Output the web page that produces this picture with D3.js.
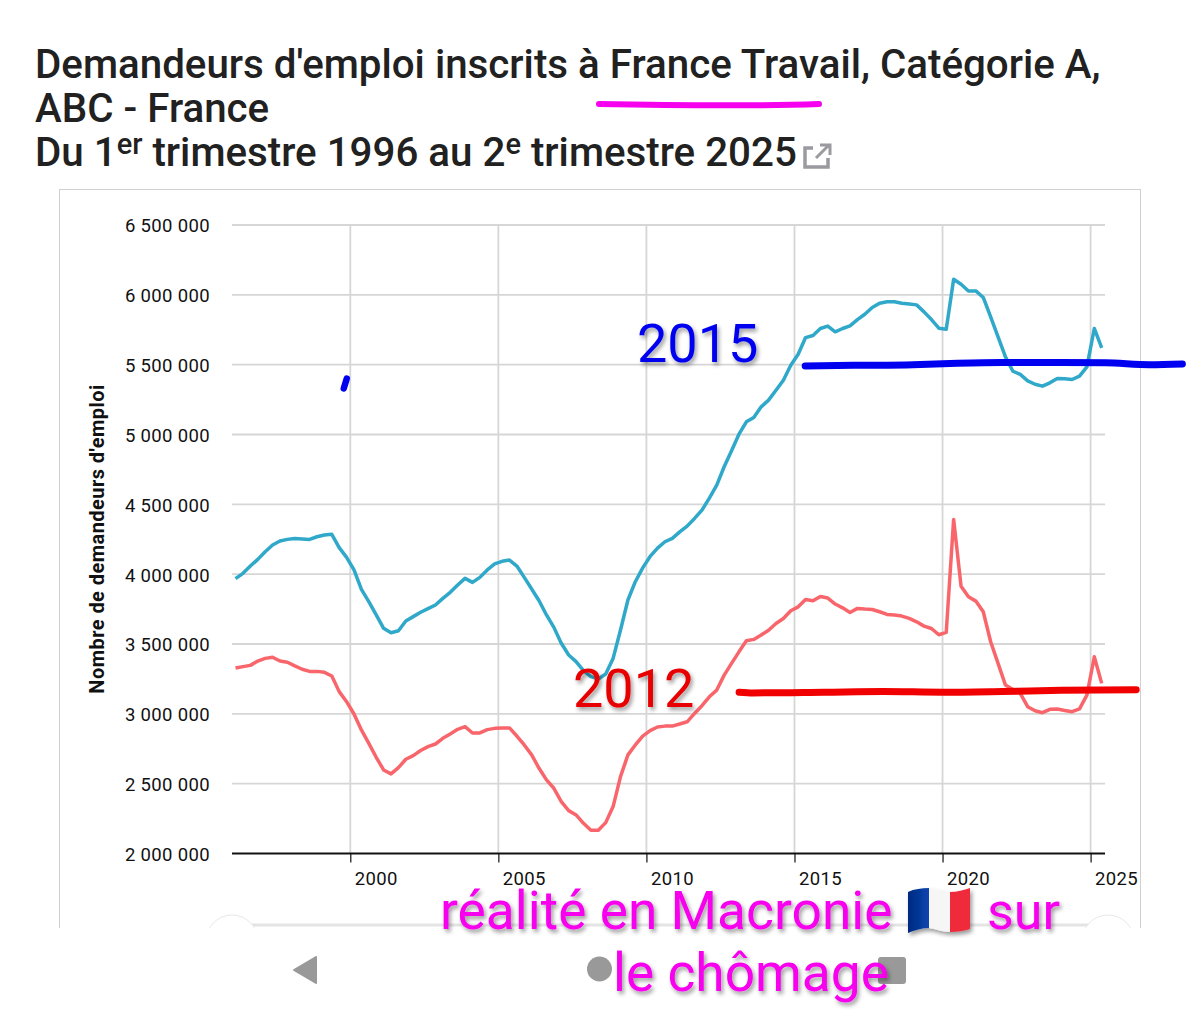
<!DOCTYPE html>
<html><head><meta charset="utf-8">
<style>html,body{margin:0;padding:0;background:#fff}svg{display:block}</style>
<script src="https://cdnjs.cloudflare.com/ajax/libs/d3/7.8.5/d3.min.js"></script>
</head><body><div id="c"></div>
<script>
const startYear = 1996;
const categoryABC = [3968,4006,4058,4106,4161,4209,4237,4249,4256,4252,4249,4268,4280,4285,4190,4120,4030,3891,3803,3708,3612,3581,3595,3665,3696,3727,3753,3779,3827,3870,3922,3970,3941,3977,4030,4073,4092,4101,4058,3977,3894,3810,3708,3619,3505,3421,3374,3309,3266,3250,3285,3397,3600,3815,3946,4045,4127,4187,4232,4256,4303,4344,4399,4458,4545,4637,4769,4883,5002,5091,5122,5198,5246,5317,5389,5496,5575,5694,5709,5759,5776,5735,5759,5778,5823,5861,5909,5940,5950,5950,5940,5935,5928,5878,5823,5761,5754,6112,6076,6028,6028,5981,5842,5699,5556,5453,5430,5384,5360,5346,5370,5401,5399,5394,5418,5484,5759,5620];
const categoryA = [3328,3338,3347,3378,3397,3405,3378,3369,3343,3319,3304,3304,3297,3271,3159,3087,2999,2885,2789,2689,2598,2570,2615,2675,2701,2737,2765,2784,2825,2856,2889,2908,2863,2863,2887,2896,2899,2899,2841,2777,2706,2610,2527,2467,2372,2307,2276,2216,2166,2166,2221,2336,2550,2706,2777,2841,2880,2906,2912,2912,2927,2943,3003,3058,3122,3170,3277,3361,3444,3523,3533,3564,3599,3647,3683,3738,3766,3819,3809,3840,3829,3786,3759,3726,3755,3750,3747,3731,3712,3707,3700,3683,3659,3628,3611,3566,3583,4392,3914,3838,3807,3731,3516,3361,3206,3175,3146,3051,3022,3008,3032,3034,3024,3015,3036,3134,3409,3218];
const yTicks = [2000,2500,3000,3500,4000,4500,5000,5500,6000,6500];
const yTickLabels = ["2 000 000","2 500 000","3 000 000","3 500 000","4 000 000","4 500 000","5 000 000","5 500 000","6 000 000","6 500 000"];
const xTicks = [2000,2005,2010,2015,2020,2025];
const blueStrokeYears = [2015.36,2017,2019,2020.5,2022,2024,2025.5,2027,2028.1];
const blueStrokeValues = [5490,5495,5500,5510,5515,5515,5513,5500,5505];
const blueTickYears = [1999.78,1999.88];
const blueTickValues = [5330,5400];
const redStrokeYears = [2013.13,2013.6,2016,2018,2020,2022,2024,2026.54];
const redStrokeValues = [3155,3150,3155,3160,3155,3160,3168,3172];

const W=1200,H=1011;
const svg=d3.select("#c").append("svg").attr("width",W).attr("height",H).attr("viewBox",[0,0,W,H]).style("font-family","Roboto");
const x=d3.scaleLinear().domain([2000,2025]).range([350.3,1090.6]);
const y=d3.scaleLinear().domain([2000,6500]).range([853.5,225]);
const FONT="Roboto";

const defs=svg.append("defs");
const blur=defs.append("filter").attr("id","sh").attr("x","-10%").attr("y","-10%").attr("width","120%").attr("height","130%");
blur.append("feDropShadow").attr("dx",2).attr("dy",3).attr("stdDeviation",2).attr("flood-color","#000").attr("flood-opacity",0.4);
const gr=defs.append("linearGradient").attr("id","fb").attr("x1",0).attr("x2",1);
gr.append("stop").attr("offset",0).attr("stop-color","#00297f");
gr.append("stop").attr("offset",1).attr("stop-color","#0a45b0");

// title
const tt=svg.append("g").attr("fill","#212121").attr("font-size",40.3).attr("font-weight",500);
tt.append("text").attr("x",35).attr("y",78).text("Demandeurs d'emploi inscrits à France Travail, Catégorie A,");
tt.append("text").attr("x",35).attr("y",122).text("ABC - France");
const t3=tt.append("text").attr("x",35).attr("y",166);
t3.append("tspan").text("Du 1");
t3.append("tspan").attr("dy",-12).attr("font-size",29).text("er");
t3.append("tspan").attr("dy",12).text(" trimestre 1996 au 2");
t3.append("tspan").attr("dy",-12).attr("font-size",29).text("e");
t3.append("tspan").attr("dy",12).text(" trimestre 2025");

// external-link icon
const ic=svg.append("g").attr("fill","none").attr("stroke","#9a9aa0").attr("stroke-width",3.5);
ic.append("path").attr("d","M813 148H805V167H828V158");
ic.append("path").attr("d","M816 158L828 146M820 145H830V155").attr("stroke-width",3);

// card
svg.append("rect").attr("x",59.5).attr("y",189.5).attr("width",1081).attr("height",760).attr("fill","#fff").attr("stroke","#d0d0d0");

// grid
const grid=svg.append("g").attr("stroke","#d6d6d6").attr("stroke-width",1.8);
grid.selectAll("line.h").data(yTicks.slice(1)).join("line").attr("x1",232).attr("x2",1105).attr("y1",d=>y(d)).attr("y2",d=>y(d));
grid.selectAll("line.v").data(xTicks).join("line").attr("x1",d=>x(d)).attr("x2",d=>x(d)).attr("y1",225).attr("y2",853);

// axes
const yAxis=d3.axisLeft(y).tickValues(yTicks).tickFormat((d,i)=>yTickLabels[i]).tickSize(0).tickPadding(22);
const ga=svg.append("g").attr("transform","translate(232,1)").call(yAxis);
ga.select(".domain").remove();
ga.selectAll("text").attr("font-family",FONT).attr("font-size",18.5).attr("letter-spacing",0.35).attr("fill","#111");
const xAxis=d3.axisBottom(x).tickValues(xTicks).tickFormat(d3.format("d")).tickSize(9).tickPadding(0);
const gx=svg.append("g").attr("transform","translate(0,853.5)").call(xAxis);
gx.select(".domain").attr("d","M232,0H1105").attr("stroke","#111").attr("stroke-width",2);
gx.selectAll("line").attr("stroke","#111").attr("stroke-width",1.2);
gx.selectAll("text").attr("font-family",FONT).attr("font-size",18.5).attr("letter-spacing",0.35).attr("fill","#111").attr("text-anchor","start").attr("x",4).attr("y",31).attr("dy",0);

svg.append("text").attr("transform","translate(104,539) rotate(-90)").attr("text-anchor","middle")
 .attr("font-size",20).attr("letter-spacing",0.45).attr("font-weight",700).attr("fill","#111").text("Nombre de demandeurs d'emploi");

// series
const line=d3.line().x((d,i)=>x(startYear+i/4+0.125)).y(d=>y(d));
svg.append("path").datum(categoryABC).attr("d",line).attr("fill","none").attr("stroke","#2fa8c9").attr("stroke-width",3.5).attr("stroke-linejoin","round");
svg.append("path").datum(categoryA).attr("d",line).attr("fill","none").attr("stroke","#f8666c").attr("stroke-width",3.5).attr("stroke-linejoin","round");

// slider remnants and bottom bar
svg.append("line").attr("x1",232).attr("x2",1108).attr("y1",925).attr("y2",925).attr("stroke","#e4e4e4").attr("stroke-width",3);
svg.selectAll("circle.h").data([232,1108]).join("circle").attr("cx",d=>d).attr("cy",941).attr("r",26).attr("fill","#fff").attr("stroke","#e8e8e8");
svg.append("rect").attr("x",0).attr("y",928).attr("width",W).attr("height",83).attr("fill","#fff");
const nav=svg.append("g").attr("fill","#999");
nav.append("path").attr("d","M316 957V983L294 970Z").attr("stroke","#999").attr("stroke-width",2).attr("stroke-linejoin","round");
nav.append("circle").attr("cx",599.5).attr("cy",969).attr("r",12.5);
nav.append("rect").attr("x",878).attr("y",957).attr("width",28).attr("height",27).attr("rx",3);

// hand strokes
const hand=d3.line().curve(d3.curveMonotoneX).x(d=>x(d[0])).y(d=>y(d[1]));
const pen=(ys,vs,col,w)=>svg.append("path").datum(d3.zip(ys,vs)).attr("d",hand).attr("fill","none").attr("stroke",col).attr("stroke-width",w).attr("stroke-linecap","round");
pen(blueStrokeYears,blueStrokeValues,"#0000f0",7);
pen(blueTickYears,blueTickValues,"#0000f0",6.5);
pen(redStrokeYears,redStrokeValues,"#f00000",7);
svg.append("path").attr("d","M599 104C650 105 760 106 819 104").attr("fill","none").attr("stroke","#f700f0").attr("stroke-width",6).attr("stroke-linecap","round");

// annotations
const ann=(t,xx,yy,c,fs)=>svg.append("text").attr("x",xx).attr("y",yy).attr("fill",c).attr("font-size",fs).attr("filter","url(#sh)").attr("font-family",FONT).text(t);
ann("2015",637,362,"#0000f0",54);
ann("2012",573,707,"#e80000",54);
ann("réalité en Macronie",440,929,"#f700ee",53.3);
ann("sur",987,929,"#f700ee",52);
ann("le chômage",613,991,"#f700ee",53.3);

// flag
const fl=svg.append("g").attr("filter","url(#sh)");
fl.append("path").attr("d","M908 892C914 889 922 888 929 888V928C922 928 914 930 908 933Z").attr("fill","url(#fb)");
fl.append("path").attr("d","M929 888C936 889 943 892 950 892V932C943 932 936 929 929 928Z").attr("fill","#f6f6f6");
fl.append("path").attr("d","M950 892C957 892 964 890 970 888V929C964 931 957 932 950 932Z").attr("fill","#ee2a3a");
</script></body></html>
